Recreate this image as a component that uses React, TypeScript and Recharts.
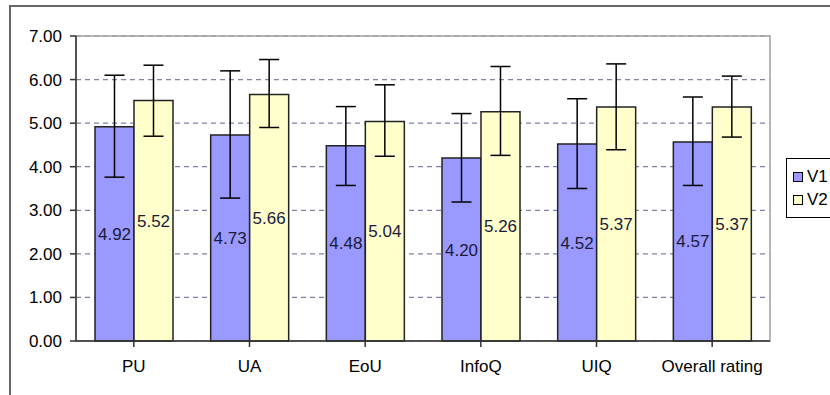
import React from "react";
import {
  BarChart,
  Bar,
  XAxis,
  YAxis,
  CartesianGrid,
  ErrorBar,
  LabelList,
  ReferenceArea,
} from "recharts";

const categories = ["PU", "UA", "EoU", "InfoQ", "UIQ", "Overall rating"];
const v1Means = [4.92, 4.73, 4.48, 4.2, 4.52, 4.57];
const v2Means = [5.52, 5.66, 5.04, 5.26, 5.37, 5.37];
// error bar ends
const v1Upper = [6.1, 6.2, 5.38, 5.22, 5.56, 5.6];
const v1Lower = [3.76, 3.28, 3.57, 3.19, 3.5, 3.57];
const v2Upper = [6.33, 6.46, 5.88, 6.3, 6.36, 6.08];
const v2Lower = [4.7, 4.9, 4.24, 4.26, 4.39, 4.68];
const yTicks = [0, 1, 2, 3, 4, 5, 6, 7];
const seriesNames = ["V1", "V2"];

const V1_COLOR = "#9999FF";
const V2_COLOR = "#FFFFCC";
const FONT = "'Liberation Sans', Arial, sans-serif";
const FS = 17;

const data = categories.map((name, i) => ({
  name,
  v1: v1Means[i],
  v2: v2Means[i],
  e1: [v1Means[i] - v1Lower[i], v1Upper[i] - v1Means[i]],
  e2: [v2Means[i] - v2Lower[i], v2Upper[i] - v2Means[i]],
}));

function LegendBox() {
  const colors = [V1_COLOR, V2_COLOR];
  return (
    <div
      style={{
        position: "absolute",
        left: 786,
        top: 158,
        border: "1px solid #000",
        background: "#fff",
        width: 60,
        height: 60,
        boxSizing: "border-box",
        padding: "6px 0 0 6px",
        fontFamily: FONT,
        fontSize: FS,
      }}
    >
      {seriesNames.map((label, i) => (
        <div key={label} style={{ display: "flex", alignItems: "center", height: 23 }}>
          <span
            style={{
              display: "inline-block",
              width: 8,
              height: 8,
              background: colors[i],
              border: "1px solid #000",
              marginRight: 4,
            }}
          />
          <span style={{ color: "#000" }}>{label}</span>
        </div>
      ))}
    </div>
  );
}

export default function App() {
  return (
    <div style={{ position: "absolute", left: 0, top: 0, width: 830, height: 395, background: "#fff", overflow: "hidden" }}>
      <div
        style={{
          position: "absolute",
          left: 9,
          top: 5,
          width: 900,
          height: 500,
          border: "2px solid #666",
          boxSizing: "border-box",
        }}
      />
      <div style={{ position: "absolute", left: 0, top: 0 }}>
        <BarChart
          width={830}
          height={395}
          data={data}
          margin={{ top: 36, right: 60, bottom: 24, left: 0 }}
          barCategoryGap={19}
          barGap={0}
        >
          <CartesianGrid vertical={false} stroke="#8080A8" strokeDasharray="5 4" strokeWidth={1.2} />
          <ReferenceArea y1={0} y2={7} fill="none" stroke="#a0a0a0" strokeWidth={1.5} ifOverflow="visible" />
          <XAxis
            dataKey="name"
            height={30}
            tick={{ fill: "#000", fontSize: FS, fontFamily: FONT }}
            tickLine={{ stroke: "#333", strokeWidth: 1.5 }}
            axisLine={{ stroke: "#333", strokeWidth: 1.5 }}
            tickSize={6}
            tickMargin={13}
            interval={0}
          />
          <YAxis
            width={76}
            domain={[0, 7]}
            ticks={yTicks}
            tickFormatter={(v: number) => v.toFixed(2)}
            tick={{ fill: "#000", fontSize: FS, fontFamily: FONT }}
            tickLine={{ stroke: "#333", strokeWidth: 1.5 }}
            axisLine={{ stroke: "#333", strokeWidth: 1.5 }}
            tickSize={6}
            tickMargin={8}
            interval={0}
          />
          <Bar dataKey="v1" name="V1" fill={V1_COLOR} stroke="#222" strokeWidth={1.5} isAnimationActive={false}>
            <ErrorBar dataKey="e1" direction="y" width={10} stroke="#000" strokeWidth={1.5} />
            <LabelList
              dataKey="v1"
              position="center"
              formatter={(v: number) => v.toFixed(2)}
              style={{ fill: "#1a1a3a", fontSize: FS, fontFamily: FONT }}
            />
          </Bar>
          <Bar dataKey="v2" name="V2" fill={V2_COLOR} stroke="#222" strokeWidth={1.5} isAnimationActive={false}>
            <ErrorBar dataKey="e2" direction="y" width={10} stroke="#000" strokeWidth={1.5} />
            <LabelList
              dataKey="v2"
              position="center"
              formatter={(v: number) => v.toFixed(2)}
              style={{ fill: "#1a1a3a", fontSize: FS, fontFamily: FONT }}
            />
          </Bar>
        </BarChart>
      </div>
      <LegendBox />
    </div>
  );
}
